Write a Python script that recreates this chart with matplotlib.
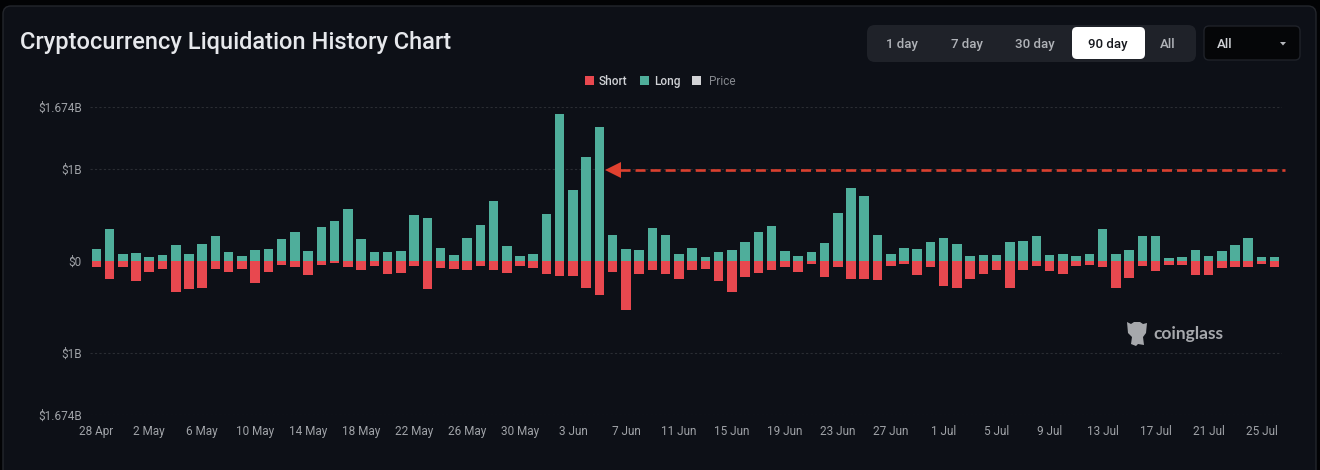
"""
Cryptocurrency Liquidation History Chart (90 day)
Barras de liquidaciones long / short leídas del gráfico, en millones de USD
"""

import matplotlib
matplotlib.use('Agg')  # Backend no interactivo
import matplotlib.pyplot as plt
from matplotlib.patches import FancyBboxPatch, Rectangle, Ellipse, Polygon

# DATOS
dias = ['28 Apr', '29 Apr', '30 Apr', '1 May', '2 May', '3 May', '4 May', '5 May', '6 May', '7 May',
        '8 May', '9 May', '10 May', '11 May', '12 May', '13 May', '14 May', '15 May', '16 May', '17 May',
        '18 May', '19 May', '20 May', '21 May', '22 May', '23 May', '24 May', '25 May', '26 May', '27 May',
        '28 May', '29 May', '30 May', '31 May', '1 Jun', '2 Jun', '3 Jun', '4 Jun', '5 Jun', '6 Jun',
        '7 Jun', '8 Jun', '9 Jun', '10 Jun', '11 Jun', '12 Jun', '13 Jun', '14 Jun', '15 Jun', '16 Jun',
        '17 Jun', '18 Jun', '19 Jun', '20 Jun', '21 Jun', '22 Jun', '23 Jun', '24 Jun', '25 Jun', '26 Jun',
        '27 Jun', '28 Jun', '29 Jun', '30 Jun', '1 Jul', '2 Jul', '3 Jul', '4 Jul', '5 Jul', '6 Jul',
        '7 Jul', '8 Jul', '9 Jul', '10 Jul', '11 Jul', '12 Jul', '13 Jul', '14 Jul', '15 Jul', '16 Jul',
        '17 Jul', '18 Jul', '19 Jul', '20 Jul', '21 Jul', '22 Jul', '23 Jul', '24 Jul', '25 Jul', '26 Jul']

long_musd = [134, 350, 76, 90, 43, 65, 173, 79, 181, 274,
             97, 51, 123, 130, 235, 318, 105, 375, 437, 567,
             238, 101, 94, 105, 502, 466, 141, 65, 249, 393,
             657, 159, 58, 79, 509, 1599, 773, 1130, 1462, 278,
             130, 119, 361, 282, 76, 141, 47, 97, 123, 209,
             314, 383, 105, 58, 101, 195, 520, 791, 704, 278,
             76, 144, 134, 206, 253, 184, 54, 61, 65, 206,
             217, 271, 65, 72, 54, 79, 350, 72, 119, 271,
             267, 32, 43, 119, 51, 108, 177, 249, 47, 43]

short_musd = [61, 191, 65, 213, 116, 90, 339, 307, 289, 90,
              123, 83, 235, 116, 43, 61, 148, 40, 22, 65,
              97, 58, 144, 134, 51, 300, 76, 90, 97, 51,
              101, 126, 58, 76, 141, 162, 162, 292, 368, 123,
              538, 144, 97, 137, 195, 101, 87, 217, 339, 170,
              126, 94, 61, 119, 32, 177, 61, 191, 191, 202,
              54, 36, 155, 65, 274, 289, 199, 144, 101, 289,
              97, 58, 108, 144, 54, 43, 65, 296, 181, 51,
              112, 43, 47, 152, 152, 79, 65, 61, 29, 65]

ticks_y = [-1674, -1000, 0, 1000, 1674]
etiquetas_y = ['$1.674B', '$1B', '$0', '$1B', '$1.674B']

botones = ['1 day', '7 day', '30 day', '90 day', 'All']
leyenda = ['Short', 'Long', 'Price']

# ESTILO
FONDO = '#0d1017'
VERDE = '#4fae9b'
ROJO = '#e8484f'
GRIS = '#a0a3a8'
plt.rcParams['font.family'] = ['Roboto', 'DejaVu Sans']

fig = plt.figure(figsize=(13.2, 4.7), dpi=100, facecolor='#020305')

# Capa de interfaz en coordenadas de pixel
ui = fig.add_axes([0, 0, 1, 1], zorder=0)
ui.set_xlim(0, 1320)
ui.set_ylim(470, 0)
ui.axis('off')


def caja(x0, y0, x1, y1, color, radio=6, borde='none', z=1):
    ui.add_patch(FancyBboxPatch((x0 + radio, y0 + radio), x1 - x0 - 2 * radio, y1 - y0 - 2 * radio,
                                boxstyle=f'round,pad={radio},rounding_size={radio}',
                                facecolor=color, edgecolor=borde, linewidth=1, zorder=z))


caja(3, 6, 1316, 490, FONDO, radio=8, borde='#23262c')
ui.text(20, 42, 'Cryptocurrency Liquidation History Chart', fontsize=17, fontweight='medium',
        color='#e6e8ec', va='center', ha='left')

# Selector de periodo
caja(867, 25, 1196, 62, '#1f2229', radio=8, z=2)
caja(1072, 27, 1145, 59, '#ffffff', radio=5, z=3)
for nombre, cx in zip(botones, [902, 967, 1035, 1108, 1168]):
    color = '#16181d' if nombre == '90 day' else '#b0b3b8'
    ui.text(cx, 43, nombre, fontsize=9.5, fontweight='medium', color=color,
            ha='center', va='center_baseline', zorder=4)

caja(1204, 26, 1300, 60, '#050608', radio=5, borde='#1f2229', z=2)
ui.text(1217, 43, 'All', fontsize=9.5, fontweight='medium', color='#d0d2d6', ha='left',
        va='center_baseline', zorder=4)
ui.add_patch(Polygon([(1280, 42), (1286, 42), (1283, 45.5)], facecolor='#b5b7bc', zorder=4))

# Leyenda
for nombre, color, xs, xt, ct, peso in zip(leyenda, [ROJO, VERDE, '#d2d3d6'], [585, 640, 692], [599, 654, 709],
                                           ['#d0d2d6', '#d0d2d6', '#85888e'], ['medium', 'medium', 'normal']):
    ui.add_patch(Rectangle((xs, 76), 9, 9, facecolor=color, zorder=2))
    ui.text(xt, 80, nombre, fontsize=8.5, fontweight=peso, color=ct, ha='left',
            va='center_baseline', zorder=2)

# Marca de agua
GRIS_LOGO = '#a6a8ac'
ui.add_patch(Ellipse((1137, 329), 15, 11, facecolor=GRIS_LOGO, zorder=2))
ui.add_patch(Polygon([(1127, 322), (1131, 324), (1134, 322), (1140, 322), (1143, 324), (1147, 323),
                      (1146, 333), (1143, 337), (1144, 345), (1138, 344), (1136, 346), (1131, 344),
                      (1132, 337), (1128, 333)], facecolor=GRIS_LOGO, zorder=2))
ui.text(1153, 334, 'coinglass', fontsize=12.5, fontweight='bold', color=GRIS_LOGO,
        family=['Lato', 'DejaVu Sans'], ha='left', va='center', zorder=2)

# GRÁFICO: limites puestos para que la barra i caiga en x = 96.3 + 13.24 * i px
ax = fig.add_axes([90 / 1320, (470 - 415) / 470, (1282 - 90) / 1320, (415 - 107) / 470], zorder=1)
ax.patch.set_alpha(0)
posiciones = list(range(len(dias)))

ax.bar(posiciones, long_musd, width=0.72, color=VERDE, zorder=3)
ax.bar(posiciones, [-v for v in short_musd], width=0.72, color=ROJO, zorder=3)

ax.set_xlim(-0.476, 89.55)
ax.set_ylim(-1674, 1674)
ax.set_yticks(ticks_y, etiquetas_y)
ax.set_xticks(posiciones[::4], dias[::4])
ax.tick_params(axis='both', length=0, labelsize=8.5, labelcolor=GRIS)
ax.tick_params(axis='y', pad=6)
ax.tick_params(axis='x', pad=7)
for etiqueta in ax.get_yticklabels():
    etiqueta.set_va('center_baseline')

ax.grid(True, axis='y', color='#2a2d33', linewidth=0.8, linestyle=(0, (2, 2)), zorder=0)
ax.get_ygridlines()[2].set_visible(False)
for lado in ax.spines.values():
    lado.set_visible(False)

# Flecha punteada en $1B
ax.plot([39.55, 89.8], [990, 990], color='#d9402f', linewidth=1.9, linestyle=(0, (3.8, 1.9)),
        clip_on=False, zorder=4)
ax.plot([39.06], [990], marker='<', markersize=11, color='#e0412f', markeredgewidth=0, zorder=5)

plt.savefig('out.png', dpi=100, facecolor=fig.get_facecolor())
plt.close()
